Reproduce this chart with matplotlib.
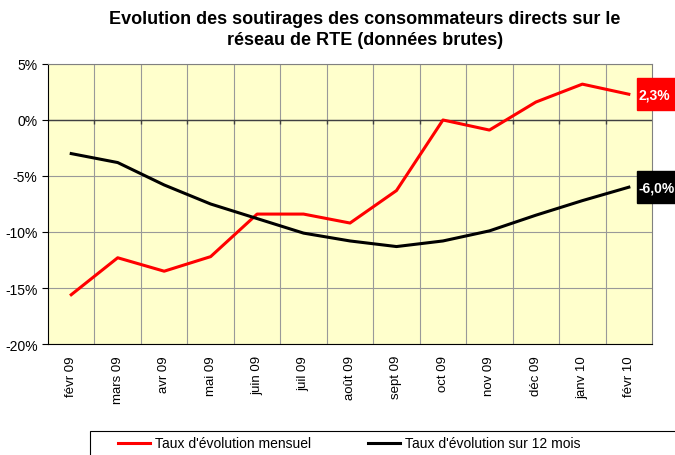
import numpy as np
import matplotlib.pyplot as plt
from matplotlib.patches import Rectangle
from matplotlib.lines import Line2D

plt.rcParams['font.family'] = ['Liberation Sans', 'DejaVu Sans']

# Données
mois = ["févr 09", "mars 09", "avr 09", "mai 09", "juin 09", "juil 09", "août 09",
        "sept 09", "oct 09", "nov 09", "déc 09", "janv 10", "févr 10"]
mensuel = [-15.6, -12.3, -13.5, -12.2, -8.4, -8.4, -9.2, -6.3, 0.0, -0.9, 1.6, 3.2, 2.3]
sur_12_mois = [-3.0, -3.8, -5.8, -7.5, -8.8, -10.1, -10.8, -11.3, -10.8, -9.9, -8.5, -7.2, -6.0]
yticks = [5, 0, -5, -10, -15, -20]

fig = plt.figure(figsize=(6.75, 4.56), dpi=100)
ax = fig.add_axes([0.0711, 0.2434, 0.8949, 0.6141])
ax.set_facecolor("#FFFFCC")

x = np.arange(len(mois))
ax.plot(x, mensuel, color="#FF0000", lw=2.2)
ax.plot(x, sur_12_mois, color="black", lw=2.2)

ax.set_xlim(-0.5, len(mois) - 0.5)
ax.set_ylim(-20, 5)

# grille verticale aux limites de catégories
for b in np.arange(0.5, len(mois) - 0.5, 1):
    ax.axvline(b, color="#999999", lw=0.8, zorder=0)
for yv in yticks:
    ax.axhline(yv, color="#999999", lw=0.8, zorder=0)
ax.axhline(0, color="#404040", lw=1, zorder=1)
ax.vlines(np.arange(0.5, len(mois) - 0.5, 1), -0.35, 0, color="#404040", lw=1)

ax.set_xticks(x)
ax.set_xticklabels(mois, rotation=90, fontsize=9.5)
ax.tick_params(axis='x', length=0, pad=8)
ax.set_yticks(yticks)
ax.set_yticklabels([f"{v}%" for v in yticks], fontsize=10)
ax.tick_params(axis='y', length=4, direction='out')
for s in ["top", "right"]:
    ax.spines[s].set_color("#808080")

# étiquettes de fin de courbe (boîtes en pixels)
fig.canvas.draw()
for val, txt, col in [(mensuel[-1], "2,3%", "#FF0000"), (sur_12_mois[-1], "-6,0%", "black")]:
    px, py = ax.transData.transform((x[-1], val))
    fig.patches.append(Rectangle((px + 8, py - 16), 60, 32, color=col,
                                 transform=None, figure=fig))
    fig.text((px + 10) / fig.bbox.width, py / fig.bbox.height, txt, color="white",
             fontsize=10, fontweight="bold", ha="left", va="center")

fig.text(0.541, 0.975, "Evolution des soutirages des consommateurs directs sur le\nréseau de RTE (données brutes)",
         ha="center", va="top", fontsize=13, fontweight="bold", linespacing=1.3)

# légende
fig.patches.append(Rectangle((90 / 675, -0.1), 0.95, 0.1526, fill=False, ec="black", lw=0.8,
                             transform=fig.transFigure, figure=fig))
leg_y = 1 - 444 / 456
fig.lines.append(Line2D([118 / 675, 150 / 675], [leg_y, leg_y], color="#FF0000", lw=2.2,
                        transform=fig.transFigure))
fig.text(155 / 675, leg_y, "Taux d'évolution mensuel", fontsize=10, va="center", ha="left")
fig.lines.append(Line2D([368 / 675, 400 / 675], [leg_y, leg_y], color="black", lw=2.2,
                        transform=fig.transFigure))
fig.text(405 / 675, leg_y, "Taux d'évolution sur 12 mois", fontsize=10, va="center", ha="left")

fig.savefig("out.png", dpi=100)
